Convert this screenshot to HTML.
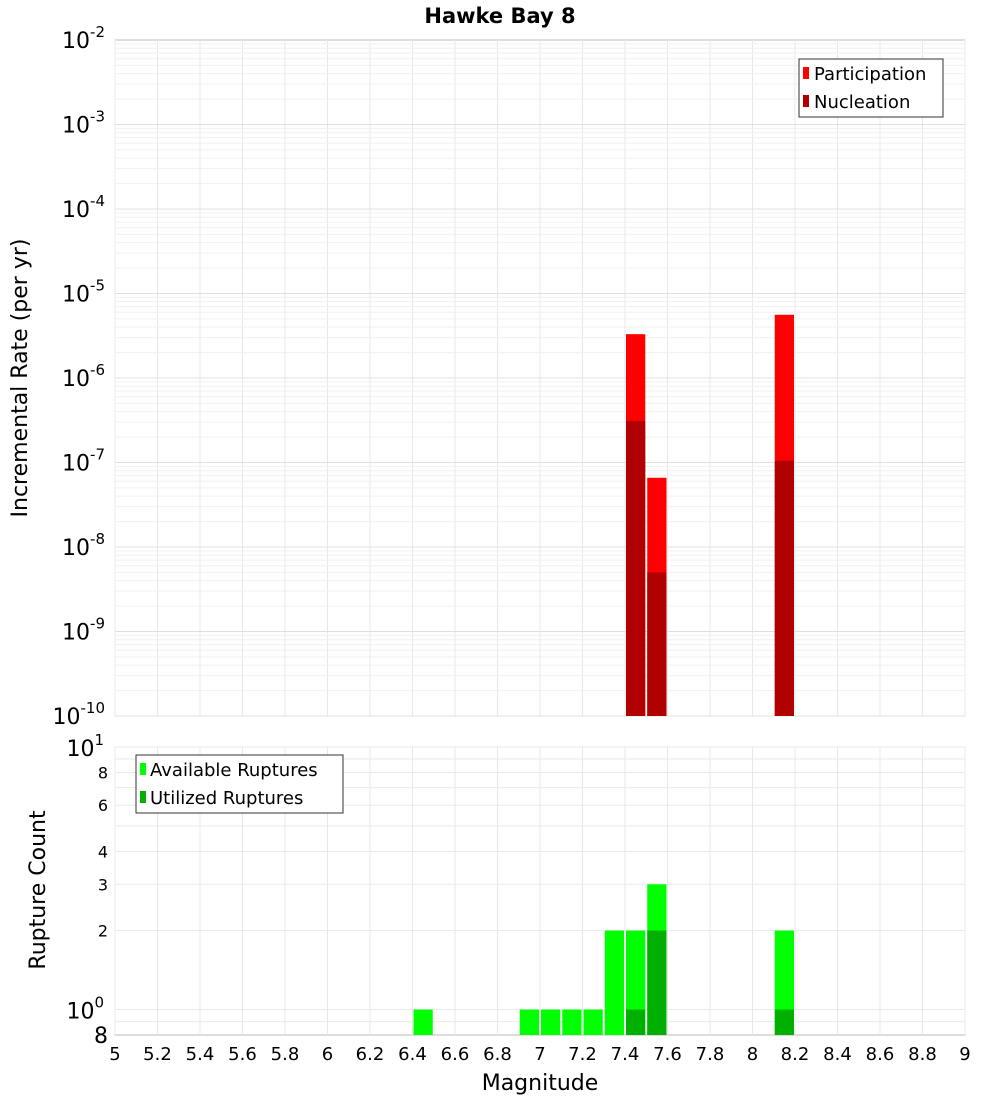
<!DOCTYPE html>
<html><head><meta charset="utf-8"><style>
body{margin:0;background:#fff;font-family:"Liberation Sans","DejaVu Sans",sans-serif}
svg text{font-family:"DejaVu Sans","Liberation Sans",sans-serif}
</style></head><body>
<svg id="chart" width="1000" height="1100" xmlns="http://www.w3.org/2000/svg">
<text x="500" y="23" text-anchor="middle" font-size="21" font-weight="bold">Hawke Bay 8</text>
<g id="topPlot"></g>
<g id="botPlot"></g>
<text transform="translate(27,378) rotate(-90)" text-anchor="middle" font-size="22">Incremental Rate (per yr)</text>
<text transform="translate(45,890) rotate(-90)" text-anchor="middle" font-size="22">Rupture Count</text>
<text x="540" y="1090" text-anchor="middle" font-size="22">Magnitude</text>
<g>
<rect x="799" y="59" width="144" height="58" fill="#fff" stroke="#333"/>
<rect x="803" y="67" width="6" height="12" fill="#ff0000"/><text x="814" y="80" font-size="18">Participation</text>
<rect x="803" y="95" width="6" height="12" fill="#b00000"/><text x="814" y="108" font-size="18">Nucleation</text>
</g>
<g>
<rect x="136" y="755" width="207" height="58" fill="#fff" stroke="#333"/>
<rect x="140" y="763" width="6" height="12" fill="#00ff00"/><text x="150" y="776" font-size="18">Available Ruptures</text>
<rect x="140" y="791" width="6" height="12" fill="#00b000"/><text x="150" y="804" font-size="18">Utilized Ruptures</text>
</g>
</svg>
<script>
const mags=[7.45,7.55,8.15];
const participation=[3.3e-6,6.6e-8,5.6e-6];
const nucleation=[3.1e-7,5e-9,1.05e-7];
const countMags=[6.45,6.95,7.05,7.15,7.25,7.35,7.45,7.55,8.15];
const available=[1,1,1,1,1,2,2,3,2];
const utilized=[0,0,0,0,0,0,1,2,1];
const xTicks=[5,5.2,5.4,5.6,5.8,6,6.2,6.4,6.6,6.8,7,7.2,7.4,7.6,7.8,8,8.2,8.4,8.6,8.8,9];
const topExps=[-2,-3,-4,-5,-6,-7,-8,-9,-10];
const botTicks=[8,6,4,3,2];
const NS="http://www.w3.org/2000/svg";
const X0=115,X1=965;
const x=m=>X0+(m-5)/4*(X1-X0);
const T0=40,T1=716;
const yT=v=>T0+(-2-Math.log10(v))/8*(T1-T0);
const B0=747,B1=1035;
const yB=v=>B0+(1-Math.log10(v))/(1-Math.log10(0.8))*(B1-B0);
function el(p,t,a){const e=document.createElementNS(NS,t);for(const k in a)e.setAttribute(k,a[k]);p.appendChild(e);return e;}
const topG=document.getElementById('topPlot'),botG=document.getElementById('botPlot'),svg=document.getElementById('chart');
el(topG,'rect',{x:X0,y:T0,width:X1-X0,height:T1-T0,fill:'#fff',stroke:'#bbb'});
el(botG,'rect',{x:X0,y:B0,width:X1-X0,height:B1-B0,fill:'#fff',stroke:'#bbb'});
for(const t of xTicks){
 const g1=el(topG,'line',{x1:x(t),x2:x(t),y1:T0,y2:T1,stroke:'#e8e8e8'});
 
 
 el(botG,'line',{x1:x(t),x2:x(t),y1:B0,y2:B1,stroke:'#e8e8e8'});
 const l=el(svg,'text',{x:x(t),y:1060,'text-anchor':'middle','font-size':18});
 l.textContent=String(t);
 
 
}
for(let e=-10;e<-2;e++)for(let k=1;k<10;k++){
 const v=k*Math.pow(10,e);
 el(topG,'line',{x1:X0,x2:X1,y1:yT(v),y2:yT(v),stroke:k==1?'#e0e0e0':'#f0f0f0'});
}
for(const e of topExps){
 const t=el(svg,'text',{x:105,y:yT(Math.pow(10,e))+8,'text-anchor':'end','font-size':22});
 t.innerHTML='10<tspan dy="-11" font-size="15">'+e+'</tspan>';
 
 
}
for(let v=1;v<=10;v++)el(botG,'line',{x1:X0,x2:X1,y1:yB(v),y2:yB(v),stroke:'#eaeaea'});
el(botG,'line',{x1:X0,x2:X1,y1:yB(0.9),y2:yB(0.9),stroke:'#eaeaea'});
for(const v of botTicks){
 const t=el(svg,'text',{x:108,y:yB(v)+6,'text-anchor':'end','font-size':16});
 t.textContent=String(v);
 
 
}
[[10,1],[1,0]].forEach(([v,e])=>{
 const t=el(svg,'text',{x:104,y:yB(v)+9,'text-anchor':'end','font-size':22});
 t.innerHTML='10<tspan dy="-11" font-size="15">'+e+'</tspan>';
 
 
});
{const t=el(svg,'text',{x:108,y:B1+8,'text-anchor':'end','font-size':22});
 t.textContent='8';
 
 }
const bw=0.1;
mags.forEach((m,i)=>{
 const a=el(topG,'rect',{x:x(m-bw/2)+1,width:x(m+bw/2)-x(m-bw/2)-2,y:yT(participation[i]),height:T1-yT(participation[i]),fill:'#ff0000'});
 
 
 const b=el(topG,'rect',{x:x(m-bw/2)+1,width:x(m+bw/2)-x(m-bw/2)-2,y:yT(nucleation[i]),height:T1-yT(nucleation[i]),fill:'#b00000'});
 
 
});
countMags.forEach((m,i)=>{
 const a=el(botG,'rect',{x:x(m-bw/2)+1,width:x(m+bw/2)-x(m-bw/2)-2,y:yB(available[i]),height:B1-yB(available[i]),fill:'#00ff00'});
 
 
 if(utilized[i]>0){
 const b=el(botG,'rect',{x:x(m-bw/2)+1,width:x(m+bw/2)-x(m-bw/2)-2,y:yB(utilized[i]),height:B1-yB(utilized[i]),fill:'#00b000'});
 
 }
});
</script>
</body></html>
